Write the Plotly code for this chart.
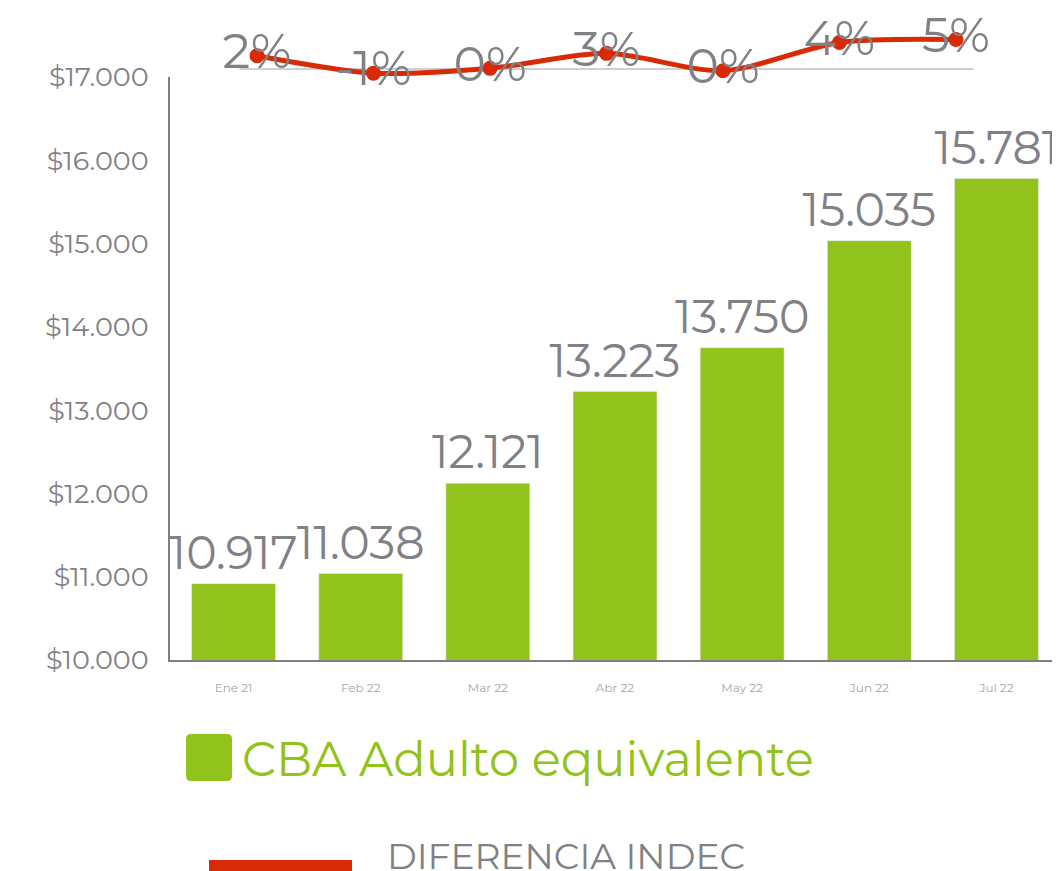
import plotly.graph_objects as go

months = ["Ene 21", "Feb 22", "Mar 22", "Abr 22", "May 22", "Jun 22", "Jul 22"]
cba_values = [10917, 11038, 12121, 13223, 13750, 15035, 15781]
diff_pct = [2.2, -0.7, 0.1, 2.6, -0.3, 4.4, 4.9]
diff_labels = ["2%", "-1%", "0%", "3%", "0%", "4%", "5%"]
y_ticks = [10000, 11000, 12000, 13000, 14000, 15000, 16000, 17000]
y_ticktext = ["$10.000", "$11.000", "$12.000", "$13.000", "$14.000", "$15.000", "$16.000", "$17.000"]
bar_labels = [f"{v:,}".replace(",", ".") for v in cba_values]
line_idx = list(range(len(months)))

GREEN = "#92c21c"
RED = "#d82a04"
GRAY = "#808086"
FONT = "Montserrat, Lato, sans-serif"

OFF = 8  # page body margin offset
W, H = 1060 - OFF, 871 - OFF
ML, MR, MT, MB = 170 - OFF, 0, 0, 211
PW, PH = W - ML - MR, H - MT - MB


def px_x(p):
    return (p - OFF - ML) / PW


def px_y(p):
    return (H - MB - (p - OFF)) / PH


def rounded_rect(x0, y0, x1, y1, r):
    # pixel coords (page) -> paper path with rounded corners
    X = lambda v: px_x(v)
    Y = lambda v: px_y(v)
    return (f"M {X(x0 + r)},{Y(y0)} L {X(x1 - r)},{Y(y0)} Q {X(x1)},{Y(y0)} {X(x1)},{Y(y0 + r)} "
            f"L {X(x1)},{Y(y1 - r)} Q {X(x1)},{Y(y1)} {X(x1 - r)},{Y(y1)} "
            f"L {X(x0 + r)},{Y(y1)} Q {X(x0)},{Y(y1)} {X(x0)},{Y(y1 - r)} "
            f"L {X(x0)},{Y(y0 + r)} Q {X(x0)},{Y(y0)} {X(x0 + r)},{Y(y0)} Z")


fig = go.Figure()

fig.add_trace(go.Bar(
    x=months, y=cba_values, marker_color=GREEN,
    text=bar_labels, textposition="outside", cliponaxis=False,
    constraintext="none",
    textfont=dict(size=46, color=GRAY, family=FONT),
    showlegend=False, hoverinfo="x+y",
))

# difference line with labels on top
fig.add_trace(go.Scatter(
    x=line_idx, y=diff_pct, xaxis="x2", yaxis="y2", mode="lines+markers+text",
    line=dict(color=RED, width=5, shape="spline", smoothing=0.8),
    marker=dict(color=RED, size=15),
    text=diff_labels, textposition="middle center", cliponaxis=False,
    textfont=dict(size=49, color=GRAY, family=FONT), showlegend=False,
))

# zero reference line of the difference series
fig.add_shape(type="line", xref="x2", yref="y2", x0=-0.15, x1=6.15, y0=0, y1=0,
              line=dict(color="#d0d0d0", width=2), layer="below")

# custom legend
fig.add_shape(type="path", xref="paper", yref="paper",
              path=rounded_rect(186, 734, 232, 781, 5),
              fillcolor=GREEN, line=dict(width=0))
fig.add_annotation(xref="paper", yref="paper", x=px_x(240), y=px_y(759),
                   xanchor="left", yanchor="middle", showarrow=False,
                   text="CBA Adulto equivalente",
                   font=dict(size=48, color=GREEN, family=FONT))
fig.add_shape(type="rect", xref="paper", yref="paper",
              x0=px_x(209), x1=px_x(352), y0=px_y(880), y1=px_y(860),
              fillcolor=RED, line=dict(width=0))
fig.add_annotation(xref="paper", yref="paper", x=px_x(385), y=px_y(856),
                   xanchor="left", yanchor="middle", showarrow=False,
                   text="DIFERENCIA INDEC",
                   font=dict(size=36, color=GRAY, family=FONT))

y_top = px_y(77)

fig.update_layout(
    width=W, height=H, autosize=False,
    margin=dict(l=ML, r=MR, t=MT, b=MB, pad=0),
    paper_bgcolor="white", plot_bgcolor="white",
    bargap=0.34,
    font=dict(family=FONT, color=GRAY),
    xaxis=dict(
        type="category", range=[-0.5, 6.5], showgrid=False, zeroline=False,
        showline=True, linecolor="#7f7f7f", linewidth=2, ticks="",
        tickfont=dict(size=12, color="#a5a5a8", family=FONT),
        ticklabelstandoff=16, anchor="y", automargin=False,
    ),
    yaxis=dict(
        domain=[0, y_top], range=[10000, 17000], tickvals=y_ticks,
        ticktext=y_ticktext, showgrid=False, zeroline=False,
        showline=True, linecolor="#7f7f7f", linewidth=2, ticks="",
        tickfont=dict(size=27, color=GRAY, family=FONT),
        ticklabelstandoff=14, automargin=False,
    ),
    xaxis2=dict(
        anchor="y2", range=[-0.747, 6.893], visible=False, domain=[0, 1],
        automargin=False,
    ),
    yaxis2=dict(
        domain=[y_top, 1], range=[-1.343, 10.149], visible=False,
        anchor="x2", automargin=False,
    ),
)

fig.write_html("out.html")
